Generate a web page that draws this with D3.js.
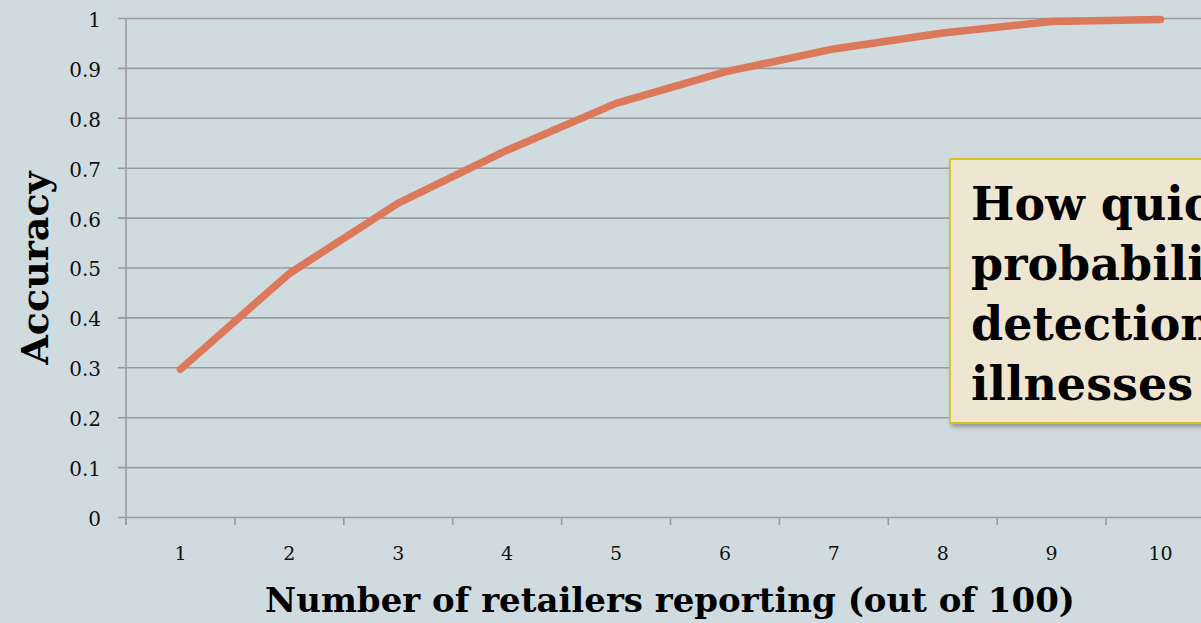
<!DOCTYPE html>
<html>
<head>
<meta charset="utf-8">
<script src="https://cdn.jsdelivr.net/npm/d3@7"></script>
<style>
  body { margin: 0; background: #cfdbdf; overflow: hidden; }
  svg { display: block; }
</style>
</head>
<body>
<div id="chart-area-line"></div>
<script>
// Chart data
var retailers = [1, 2, 3, 4, 5, 6, 7, 8, 9, 10];
var accuracy = [0.296, 0.488, 0.629, 0.735, 0.829, 0.892, 0.938, 0.970, 0.993, 0.997];
var yTicks = [0, 0.1, 0.2, 0.3, 0.4, 0.5, 0.6, 0.7, 0.8, 0.9, 1];
var yTickLabels = ["0", "0.1", "0.2", "0.3", "0.4", "0.5", "0.6", "0.7", "0.8", "0.9", "1"];
var calloutLines = ["How quickly does", "probability of", "detection of", "illnesses rise?"];

var xTitle = "Number of retailers reporting (out of 100)";
var yTitle = "Accuracy";

LineChart = function (_parentElement) {
  this.parentElement = _parentElement;
  this.initVis();
};

LineChart.prototype.initVis = function () {
  var vis = this;

  vis.margin = { left: 126, right: -14, top: 18, bottom: 106 };
  vis.width = 1201 - vis.margin.left - vis.margin.right;
  vis.height = 623 - vis.margin.top - vis.margin.bottom;

  vis.serif = "'DejaVu Serif', Georgia, serif";
  vis.gridColor = "#9b9b9b";
  vis.lineColor = "#dd795b";

  vis.root = d3.select(vis.parentElement)
    .append("svg")
    .attr("width", 1201)
    .attr("height", 623);

  vis.root.append("rect")
    .attr("width", 1201)
    .attr("height", 623)
    .attr("fill", "#cfdbdf");

  vis.svg = vis.root.append("g")
    .attr("transform", "translate(" + vis.margin.left + ", " + vis.margin.top + ")");

  /* Scales */
  vis.xScale = d3.scaleBand()
    .domain(retailers)
    .range([0, vis.width]);

  vis.yScale = d3.scaleLinear()
    .domain([0, 1])
    .range([vis.height, 0]);

  vis.updateVis();
};

LineChart.prototype.updateVis = function () {
  var vis = this;

  /* Horizontal gridlines (with the small outer tick) */
  vis.yAxis = d3.axisLeft(vis.yScale)
    .tickValues(yTicks)
    .tickSize(-vis.width - 8)
    .tickFormat((d, i) => yTickLabels[i]);

  vis.yAxisGroup = vis.svg.append("g")
    .attr("class", "y-axis")
    .attr("transform", "translate(-8, 0)")
    .call(vis.yAxis);

  vis.yAxisGroup.select(".domain").remove();
  vis.yAxisGroup.selectAll(".tick line")
    .attr("stroke", vis.gridColor)
    .attr("stroke-width", 1.6);
  vis.yAxisGroup.selectAll(".tick text")
    .attr("x", -17)
    .attr("dy", "0.42em")
    .attr("font-family", vis.serif)
    .attr("font-size", "20px")
    .attr("fill", "#111");

  /* Vertical axis line */
  vis.svg.append("line")
    .attr("x1", 0).attr("x2", 0)
    .attr("y1", 0).attr("y2", vis.height + 8)
    .attr("stroke", vis.gridColor)
    .attr("stroke-width", 1.6);

  /* X axis: ticks on the band edges, labels in the middle */
  vis.xAxisGroup = vis.svg.append("g")
    .attr("class", "x-axis")
    .attr("transform", `translate(0, ${vis.height})`);

  vis.xAxisGroup.selectAll(".edge")
    .data(retailers).enter()
    .append("line")
    .attr("class", "edge")
    .attr("x1", d => vis.xScale(d))
    .attr("x2", d => vis.xScale(d))
    .attr("y1", 0).attr("y2", 8)
    .attr("stroke", vis.gridColor)
    .attr("stroke-width", 1.6);

  vis.xAxisGroup.selectAll(".lbl")
    .data(retailers).enter()
    .append("text")
    .attr("class", "lbl")
    .attr("x", d => vis.xScale(d) + vis.xScale.bandwidth() / 2)
    .attr("y", 43)
    .attr("text-anchor", "middle")
    .attr("font-family", vis.serif)
    .attr("font-size", "19px")
    .attr("fill", "#111")
    .text(d => d);

  /* The accuracy line */
  vis.line = d3.line()
    .x(d => vis.xScale(d.x) + vis.xScale.bandwidth() / 2)
    .y(d => vis.yScale(d.y));

  vis.svg.append("path")
    .datum(retailers.map((r, i) => ({ x: r, y: accuracy[i] })))
    .attr("class", "line")
    .attr("d", vis.line)
    .attr("fill", "none")
    .attr("stroke", vis.lineColor)
    .attr("stroke-width", 7.5)
    .attr("stroke-linecap", "round")
    .attr("stroke-linejoin", "round");

  /* Axis titles */
  vis.root.append("text")
    .attr("x", 670)
    .attr("y", 612)
    .attr("text-anchor", "middle")
    .attr("font-family", vis.serif)
    .attr("font-weight", "bold")
    .attr("font-size", "34px")
    .attr("fill", "#000")
    .text(xTitle);

  vis.root.append("text")
    .attr("transform", "translate(48, 268) rotate(-90)")
    .attr("text-anchor", "middle")
    .attr("font-family", vis.serif)
    .attr("font-weight", "bold")
    .attr("font-size", "38px")
    .attr("fill", "#000")
    .text(yTitle);

  /* Callout box, runs off the right edge */
  var defs = vis.root.append("defs");
  defs.append("filter")
    .attr("id", "shadow")
    .attr("x", "-10%").attr("y", "-10%")
    .attr("width", "130%").attr("height", "130%")
    .append("feDropShadow")
    .attr("dx", 2).attr("dy", 3)
    .attr("stdDeviation", 2)
    .attr("flood-color", "#6b6b6b")
    .attr("flood-opacity", 0.6);

  vis.callout = vis.root.append("g")
    .attr("transform", "translate(950, 159)");

  vis.callout.append("rect")
    .attr("width", 300)
    .attr("height", 264)
    .attr("fill", "#efe6d2")
    .attr("stroke", "#d6c322")
    .attr("stroke-width", 2)
    .attr("filter", "url(#shadow)");

  vis.callout.selectAll(".callout-line")
    .data(calloutLines).enter()
    .append("text")
    .attr("class", "callout-line")
    .attr("x", 21)
    .attr("y", (d, i) => 61 + i * 60)
    .attr("font-family", vis.serif)
    .attr("font-weight", "bold")
    .attr("font-size", "46px")
    .attr("fill", "#000")
    .text(d => d);
};

var chart = new LineChart("#chart-area-line");
</script>
</body>
</html>
